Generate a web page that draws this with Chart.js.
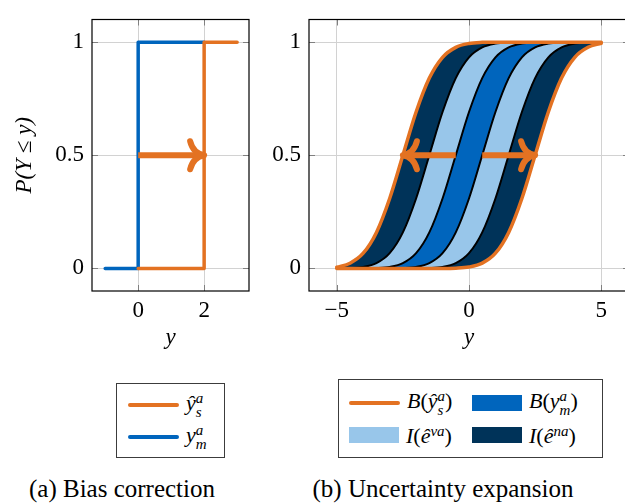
<!DOCTYPE html>
<html>
<head>
<meta charset="utf-8">
<script src="https://cdn.jsdelivr.net/npm/chart.js@4.4.1/dist/chart.umd.min.js"></script>
<style>
  body { margin: 0; width: 625px; height: 503px; overflow: hidden; position: relative; background: #fff;
         font-family: "Liberation Serif", "Times New Roman", Times, "Nimbus Roman", Tinos, "DejaVu Serif", serif; color: #000; }
  .wrap { position: absolute; top: 0; }
  .legend { position: absolute; border: 1px solid #3c3c3c; box-sizing: border-box; background: #fff; }
  .item { position: absolute; display: flex; align-items: center; height: 30px; }
  .sw-line { width: 51px; height: 4px; border-radius: 2px; }
  .sw-box { width: 50px; height: 16px; }
  .lbl { font-size: 22px; margin-left: 7px; white-space: nowrap; line-height: 1; }
  .st { display: inline-flex; flex-direction: column; font-size: 15px; line-height: 14.5px; vertical-align: 7px; font-style: italic; }
  .caption { position: absolute; top: 476px; font-size: 25px; line-height: 1; white-space: nowrap; transform: translateX(-50%); }
</style>
</head>
<body>
<div class="wrap" style="left:0; width:255px; height:360px"><canvas id="chartA" width="255" height="360"></canvas></div>
<div class="wrap" style="left:255px; width:385px; height:360px"><canvas id="chartB" width="385" height="360"></canvas></div>
<div id="legendA" class="legend" style="left:116px; top:383px; width:109px; height:75px"></div>
<div id="legendB" class="legend" style="left:338px; top:379px; width:265px; height:79px"></div>
<div class="caption" style="left:122px">(a) Bias correction</div>
<div class="caption" style="left:443px">(b) Uncertainty expansion</div>

<script>
// colours (TUM palette)
const ORANGE = '#E37222';
const BLUE = '#0065BD';
const NAVY = '#003359';
const LIGHT = '#98C6EA';

// (a) bias correction: step CDFs
const simX = [0, 2, 2, 3];
const simY = [0, 0, 1, 1];
const measX = [-1, 0, 0, 2];
const measY = [0, 0, 1, 1];
const arrowFromA = [0];
const arrowToA = [2];

// (b) uncertainty expansion: band edges, read at y = -5 ... 5
const curveX = [-5, -4.5, -4, -3.5, -3, -2.5, -2, -1.5, -1, -0.5, 0, 0.5, 1, 1.5, 2, 2.5, 3, 3.5, 4, 4.5, 5];
const edgeOuterL = [0.005, 0.023, 0.067, 0.159, 0.309, 0.5, 0.691, 0.841, 0.933, 0.977, 0.994, 0.999, 1, 1, 1, 1, 1, 1, 1, 1, 1];
const edgeInnerL = [0, 0.001, 0.006, 0.023, 0.067, 0.159, 0.309, 0.5, 0.691, 0.841, 0.933, 0.977, 0.994, 0.999, 1, 1, 1, 1, 1, 1, 1];
const edgeMidL = [0, 0, 0, 0.001, 0.006, 0.023, 0.067, 0.159, 0.309, 0.5, 0.691, 0.841, 0.933, 0.977, 0.994, 0.999, 1, 1, 1, 1, 1];
const edgeMidR = [0, 0, 0, 0, 0, 0.001, 0.006, 0.023, 0.067, 0.159, 0.309, 0.5, 0.691, 0.841, 0.933, 0.977, 0.994, 0.999, 1, 1, 1];
const edgeInnerR = [0, 0, 0, 0, 0, 0, 0, 0.001, 0.006, 0.023, 0.067, 0.159, 0.309, 0.5, 0.691, 0.841, 0.933, 0.977, 0.994, 0.999, 1];
const edgeOuterR = [0, 0, 0, 0, 0, 0, 0, 0, 0, 0.001, 0.006, 0.023, 0.067, 0.159, 0.309, 0.5, 0.691, 0.841, 0.933, 0.977, 0.995];
const arrowFromB = [-0.5, 0.5];
const arrowToB = [-2.5, 2.5];
const arrowY = 0.5;

// ticks
const yTicks = [0, 0.5, 1];
const yTickLabels = ['0', '0.5', '1'];
const xTicksA = [0, 2];
const xTickLabelsA = ['0', '2'];
const xTicksB = [-5, 0, 5];
const xTickLabelsB = ['\u22125', '0', '5'];

const SERIF = '"Liberation Serif", "Times New Roman", Times, "Nimbus Roman", Tinos, "DejaVu Serif", serif';
Chart.defaults.font.family = SERIF;
Chart.defaults.font.size = 23;
Chart.defaults.color = '#000';

function xy(xs, ys) {
  return xs.map((x, i) => ({ x: x, y: ys[i] }));
}

// inward tick marks on all four sides + black frame
const framePlugin = {
  id: 'frame',
  afterDraw(chart) {
    const { ctx, chartArea: a, scales: { x, y } } = chart;
    ctx.save();
    ctx.strokeStyle = '#808080';
    ctx.lineWidth = 1;
    ctx.beginPath();
    x.ticks.forEach(t => {
      const px = Math.round(x.getPixelForValue(t.value)) + 0.5;
      ctx.moveTo(px, a.top); ctx.lineTo(px, a.top + 6);
      ctx.moveTo(px, a.bottom); ctx.lineTo(px, a.bottom - 6);
    });
    y.ticks.forEach(t => {
      const py = Math.round(y.getPixelForValue(t.value)) + 0.5;
      ctx.moveTo(a.left, py); ctx.lineTo(a.left + 6, py);
      ctx.moveTo(a.right, py); ctx.lineTo(a.right - 6, py);
    });
    ctx.stroke();
    ctx.strokeStyle = '#000';
    ctx.lineWidth = 1.2;
    ctx.strokeRect(a.left, a.top, a.right - a.left, a.bottom - a.top);
    ctx.restore();
  }
};

// thick orange arrows with curved heads
const arrowPlugin = {
  id: 'arrows',
  afterDatasetsDraw(chart, args, opts) {
    const { ctx, scales: { x, y } } = chart;
    const py = y.getPixelForValue(opts.y);
    ctx.save();
    ctx.strokeStyle = opts.color;
    ctx.lineWidth = 6;
    opts.from.forEach((f, i) => {
      const x0 = x.getPixelForValue(f);
      const x1 = x.getPixelForValue(opts.to[i]);
      const d = Math.sign(x1 - x0);
      ctx.lineCap = 'butt';
      ctx.beginPath();
      ctx.moveTo(x0, py);
      ctx.lineTo(x1 - d * 2, py);
      ctx.stroke();
      ctx.lineCap = 'round';
      ctx.lineJoin = 'round';
      ctx.beginPath();
      ctx.moveTo(x1 - d * 14, py - 14);
      ctx.quadraticCurveTo(x1 - d * 11, py - 2, x1, py);
      ctx.quadraticCurveTo(x1 - d * 11, py + 2, x1 - d * 14, py + 14);
      ctx.stroke();
    });
    ctx.restore();
  }
};

function axisX(min, max, ticks, labels, height) {
  return {
    type: 'linear', min: min, max: max,
    afterBuildTicks: s => { s.ticks = ticks.map(v => ({ value: v })); },
    afterFit: s => { s.height = height; },
    grid: { color: '#d2d2d2', lineWidth: 1, drawTicks: false },
    border: { display: false },
    ticks: { autoSkip: false, maxRotation: 0, padding: 8, font: { lineHeight: 1 },
             callback: (v, i) => labels[i] },
    title: { display: true, text: 'y', font: { style: 'italic', size: 23, lineHeight: 1 },
             padding: { top: 0, bottom: 11 } }
  };
}

function axisY(width, withTitle) {
  return {
    min: -0.1, max: 1.1,
    afterBuildTicks: s => { s.ticks = yTicks.map(v => ({ value: v })); },
    afterFit: s => { s.width = width; },
    grid: { color: '#d2d2d2', lineWidth: 1, drawTicks: false },
    border: { display: false },
    ticks: { autoSkip: false, padding: 8, font: { lineHeight: 1 },
             callback: (v, i) => yTickLabels[i] },
    title: { display: withTitle, text: 'P(Y \u2264 y)', font: { style: 'italic', size: 23, lineHeight: 1 },
             padding: { top: 13, bottom: 0 } }
  };
}

function lineSet(data, color, width, extra) {
  return Object.assign({
    data: data, borderColor: color, borderWidth: width, pointRadius: 0,
    borderCapStyle: 'round', borderJoinStyle: 'round', fill: false
  }, extra || {});
}

// (a)
new Chart(document.getElementById('chartA'), {
  type: 'line',
  data: {
    datasets: [
      lineSet(xy(simX, simY), ORANGE, 3.5, { label: 'sim' }),
      lineSet(xy(measX, measY), BLUE, 3.5, { label: 'meas' })
    ]
  },
  options: {
    responsive: false, animation: false,
    layout: { padding: { top: 12, right: 6, left: 0, bottom: 0 } },
    plugins: {
      legend: { display: false }, tooltip: { enabled: false },
      arrows: { from: arrowFromA, to: arrowToA, y: arrowY, color: ORANGE }
    },
    scales: { x: axisX(-1.4, 3.36, xTicksA, xTickLabelsA, 69), y: axisY(92, true) }
  },
  plugins: [arrowPlugin, framePlugin]
});

// (b)
const curved = { cubicInterpolationMode: 'monotone' };
new Chart(document.getElementById('chartB'), {
  type: 'line',
  data: {
    datasets: [
      lineSet(xy(curveX, edgeOuterL), ORANGE, 3.5, Object.assign({ fill: '+1', backgroundColor: NAVY, order: 0 }, curved)),
      lineSet(xy(curveX, edgeInnerL), '#000', 2, Object.assign({ fill: '+1', backgroundColor: LIGHT, order: 1 }, curved)),
      lineSet(xy(curveX, edgeMidL), '#000', 2, Object.assign({ fill: '+1', backgroundColor: BLUE, order: 1 }, curved)),
      lineSet(xy(curveX, edgeMidR), '#000', 2, Object.assign({ fill: '+1', backgroundColor: LIGHT, order: 1 }, curved)),
      lineSet(xy(curveX, edgeInnerR), '#000', 2, Object.assign({ fill: '+1', backgroundColor: NAVY, order: 1 }, curved)),
      lineSet(xy(curveX, edgeOuterR), ORANGE, 3.5, Object.assign({ order: 0 }, curved))
    ]
  },
  options: {
    responsive: false, animation: false,
    layout: { padding: { top: 12, right: 11, left: 0, bottom: 0 } },
    plugins: {
      legend: { display: false }, tooltip: { enabled: false },
      filler: { drawTime: 'beforeDatasetsDraw' },
      arrows: { from: arrowFromB, to: arrowToB, y: arrowY, color: ORANGE }
    },
    scales: { x: axisX(-6.05, 6.05, xTicksB, xTickLabelsB, 69), y: axisY(54, false) }
  },
  plugins: [arrowPlugin, framePlugin]
});

// legends (html, for stacked sub/superscripts)
function script(base, sup, sub) {
  return '<i>' + base + '</i><span class="st"><span>' + sup + '</span><span>' + sub + '</span></span>';
}
const legendItemsA = [
  { kind: 'line', color: ORANGE, html: script('\u0177', 'a', 's'), left: 11, top: 6 },
  { kind: 'line', color: BLUE, html: script('y', 'a', 'm'), left: 11, top: 38 }
];
const legendItemsB = [
  { kind: 'line', color: ORANGE, html: '<i>B</i>(' + script('\u0177', 'a', 's') + ')', left: 10, top: 8 },
  { kind: 'box', color: BLUE, html: '<i>B</i>(' + script('y', 'a', 'm') + ')', left: 133, top: 8 },
  { kind: 'box', color: LIGHT, html: '<i>I</i>(' + script('\u00ea', 'va', '') + ')', left: 10, top: 40 },
  { kind: 'box', color: NAVY, html: '<i>I</i>(' + script('\u00ea', 'na', '') + ')', left: 133, top: 40 }
];

function buildLegend(id, items) {
  const box = document.getElementById(id);
  items.forEach(it => {
    const row = document.createElement('div');
    row.className = 'item';
    row.style.left = it.left + 'px';
    row.style.top = it.top + 'px';
    const sw = document.createElement('div');
    sw.className = it.kind === 'line' ? 'sw-line' : 'sw-box';
    sw.style.background = it.color;
    const lbl = document.createElement('span');
    lbl.className = 'lbl';
    lbl.innerHTML = it.html;
    row.appendChild(sw);
    row.appendChild(lbl);
    box.appendChild(row);
  });
}
buildLegend('legendA', legendItemsA);
buildLegend('legendB', legendItemsB);
</script>
</body>
</html>
